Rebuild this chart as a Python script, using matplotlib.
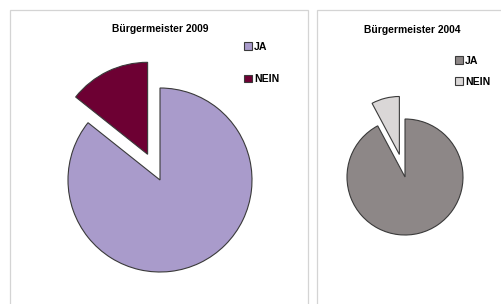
import matplotlib.pyplot as plt
from matplotlib.patches import Rectangle

plt.rcParams["font.family"] = ["Liberation Sans", "DejaVu Sans"]

labels = ["JA", "NEIN"]
votes_2009 = [85.7, 14.3]
votes_2004 = [92.2, 7.8]
colors_2009 = ["#a99bcb", "#6d0033"]
colors_2004 = ["#8d8787", "#dad7d7"]

W, H = 501, 304
fig = plt.figure(figsize=(W / 100, H / 100), dpi=100)
fig.patch.set_facecolor("white")


def px_rect(x0, y0, x1, y1):
    # pixel box (top-left origin) -> figure fraction [l, b, w, h]
    return [x0 / W, 1 - y1 / H, (x1 - x0) / W, (y1 - y0) / H]


# panel frames
for x0, x1 in [(10, 308), (317, 510)]:
    l, b, w, h = px_rect(x0, 10, x1, 320)
    fig.patches.append(Rectangle((l, b), w, h, transform=fig.transFigure,
                                 fill=False, edgecolor="#d4d4d4", lw=0.9))


def draw_pie(values, colors, title, cx, cy, r, explode, tx, ty, lx, ly, spacing):
    lim = 1.6
    half = r * lim
    ax = fig.add_axes(px_rect(cx - half, cy - half, cx + half, cy + half))
    wedges, _ = ax.pie(values, colors=colors, startangle=90, counterclock=False,
                       explode=[0, explode],
                       wedgeprops=dict(edgecolor="#3a3a3a", linewidth=0.8))
    ax.set_xlim(-lim, lim)
    ax.set_ylim(-lim, lim)
    ax.set_aspect("equal")
    ax.axis("off")
    fig.text(tx / W, 1 - ty / H, title, ha="center", va="center",
             fontsize=7.4, fontweight="bold")
    fig.legend(wedges, labels, loc="upper left",
               bbox_to_anchor=(lx / W, 1 - ly / H), frameon=False,
               handlelength=0.75, handleheight=0.75, handletextpad=0.2,
               labelspacing=spacing, borderpad=0, borderaxespad=0,
               prop=dict(size=7.6, weight="bold"))


draw_pie(votes_2009, colors_2009, "Bürgermeister 2009",
         160, 180, 92, 0.31, 160, 29, 244, 42, 2.1)
draw_pie(votes_2004, colors_2004, "Bürgermeister 2004",
         405, 177, 58, 0.40, 412, 30, 455, 56, 1.0)

fig.savefig("out.png", dpi=100)
